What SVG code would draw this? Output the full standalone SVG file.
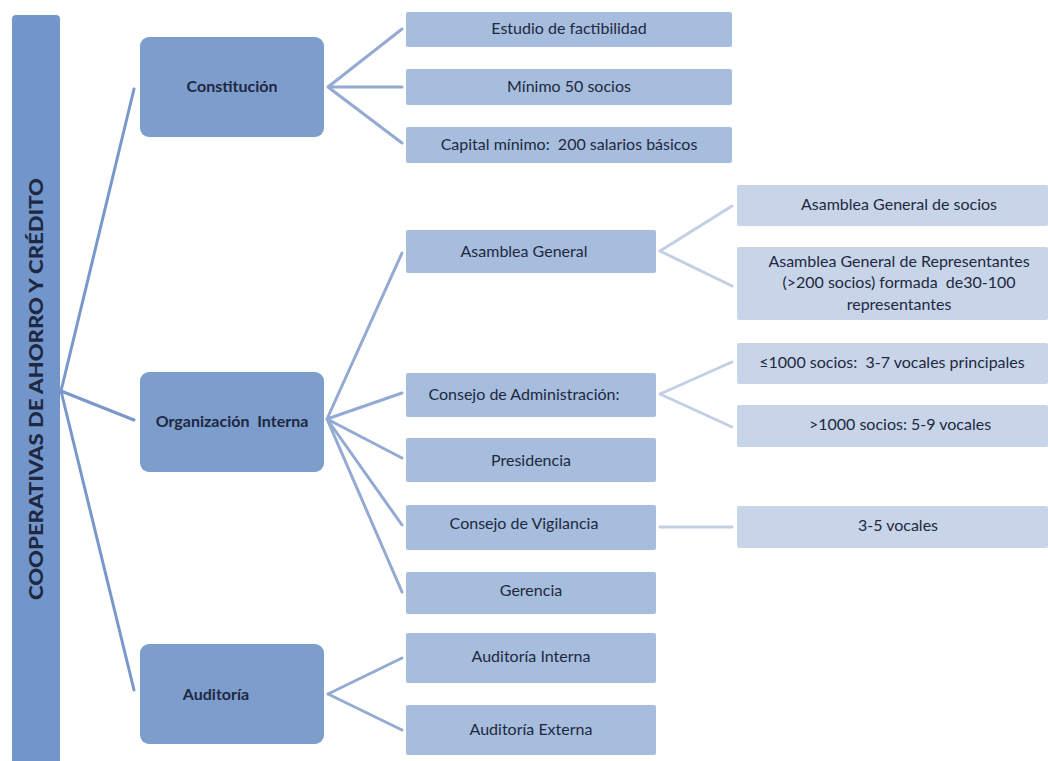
<svg xmlns="http://www.w3.org/2000/svg" width="1048" height="761" viewBox="0 0 1048 761">
<style>
.root{fill:#7296CB}
.l1{fill:#7D9DCD}
.l2{fill:#A6BDDD}
.l3{fill:#C8D5E9}
.t{font-family:Lato,"Open Sans","Liberation Sans",sans-serif;fill:#1E2840;text-anchor:middle;white-space:pre}
.t2{font-size:16px}
.b{font-weight:bold;font-size:16px}
.c0{stroke:#7A97CA;stroke-width:3;fill:none;stroke-linecap:round}
.c1{stroke:#93AAD3;stroke-width:3;fill:none;stroke-linecap:round}
.c2{stroke:#C2CFE4;stroke-width:3;fill:none;stroke-linecap:round}
</style>
<rect width="1048" height="761" fill="#ffffff"/>
<g id="connectors">
<path class="c0" d="M61 391 L134 89 M61 391 L134 420 M61 391 L134 690"/>
<path class="c1" d="M328 87 L402 29 M328 87 L402 87 M328 87 L402 143"/>
<path class="c1" d="M327 419 L402 253 M327 419 L402 393 M327 419 L402 458 M327 419 L402 525 M327 419 L402 592"/>
<path class="c1" d="M328 694 L402 658 M328 694 L402 730"/>
<path class="c2" d="M660 251 L732 206 M660 251 L732 286"/>
<path class="c2" d="M660 394 L732 362 M660 394 L732 427"/>
<path class="c2" d="M660 527 L732 527"/>
</g>
<g id="root">
<path class="root" d="M12 19 Q12 15 16 15 L56 15 Q60 15 60 19 L60 761 L12 761 Z"/>
<text class="t" x="0" y="0" transform="translate(43,389) rotate(-90)" style="font-weight:900;font-size:19px" textLength="422" lengthAdjust="spacingAndGlyphs">COOPERATIVAS DE AHORRO Y CRÉDITO</text>
</g>
<g id="constitucion">
<rect class="l1" x="140" y="37" width="184" height="100" rx="9"/>
<text class="t b" x="232" y="92">Constitución</text>
</g>
<g id="organizacion">
<rect class="l1" x="140" y="372" width="184" height="100" rx="9"/>
<text class="t b" x="232" y="427">Organización  Interna</text>
</g>
<g id="auditoria">
<rect class="l1" x="140" y="644" width="184" height="100" rx="9"/>
<text class="t b" x="216" y="700">Auditoría</text>
</g>
<g id="estudio">
<rect class="l2" x="406" y="12" width="326" height="35" rx="2"/>
<text class="t t2" x="569" y="34">Estudio de factibilidad</text>
</g>
<g id="minimo">
<rect class="l2" x="406" y="69" width="326" height="36" rx="2"/>
<text class="t t2" x="569" y="92">Mínimo 50 socios</text>
</g>
<g id="capital">
<rect class="l2" x="406" y="127" width="326" height="36" rx="2"/>
<text class="t t2" x="569" y="150">Capital mínimo:  200 salarios básicos</text>
</g>
<g id="asamblea">
<rect class="l2" x="406" y="230" width="250" height="43" rx="2"/>
<text class="t t2" x="524" y="257">Asamblea General</text>
</g>
<g id="consejo-admin">
<rect class="l2" x="406" y="373" width="250" height="44" rx="2"/>
<text class="t t2" x="524" y="400">Consejo de Administración:</text>
</g>
<g id="presidencia">
<rect class="l2" x="406" y="438" width="250" height="44" rx="2"/>
<text class="t t2" x="531" y="466">Presidencia</text>
</g>
<g id="consejo-vig">
<rect class="l2" x="406" y="505" width="250" height="45" rx="2"/>
<text class="t t2" x="524" y="529">Consejo de Vigilancia</text>
</g>
<g id="gerencia">
<rect class="l2" x="406" y="572" width="250" height="42" rx="2"/>
<text class="t t2" x="531" y="596">Gerencia</text>
</g>
<g id="aud-interna">
<rect class="l2" x="406" y="633" width="250" height="50" rx="2"/>
<text class="t t2" x="531" y="662">Auditoría Interna</text>
</g>
<g id="aud-externa">
<rect class="l2" x="406" y="705" width="250" height="50" rx="2"/>
<text class="t t2" x="531" y="735">Auditoría Externa</text>
</g>
<g id="asamblea-socios">
<rect class="l3" x="737" y="185" width="311" height="41" rx="2"/>
<text class="t t2" x="899" y="210">Asamblea General de socios</text>
</g>
<g id="asamblea-rep">
<rect class="l3" x="737" y="247" width="311" height="73" rx="2"/>
<text class="t t2" x="899" y="267">Asamblea General de Representantes</text>
<text class="t t2" x="899" y="288">(&gt;200 socios) formada  de30-100</text>
<text class="t t2" x="899" y="310">representantes</text>
</g>
<g id="menos1000">
<rect class="l3" x="737" y="343" width="311" height="41" rx="2"/>
<text class="t t2" x="892" y="368">≤1000 socios:  3-7 vocales principales</text>
</g>
<g id="mas1000">
<rect class="l3" x="737" y="405" width="311" height="42" rx="2"/>
<text class="t t2" x="900" y="430">&gt;1000 socios: 5-9 vocales</text>
</g>
<g id="vocales">
<rect class="l3" x="737" y="506" width="311" height="42" rx="2"/>
<text class="t t2" x="898" y="531">3-5 vocales</text>
</g>
</svg>
